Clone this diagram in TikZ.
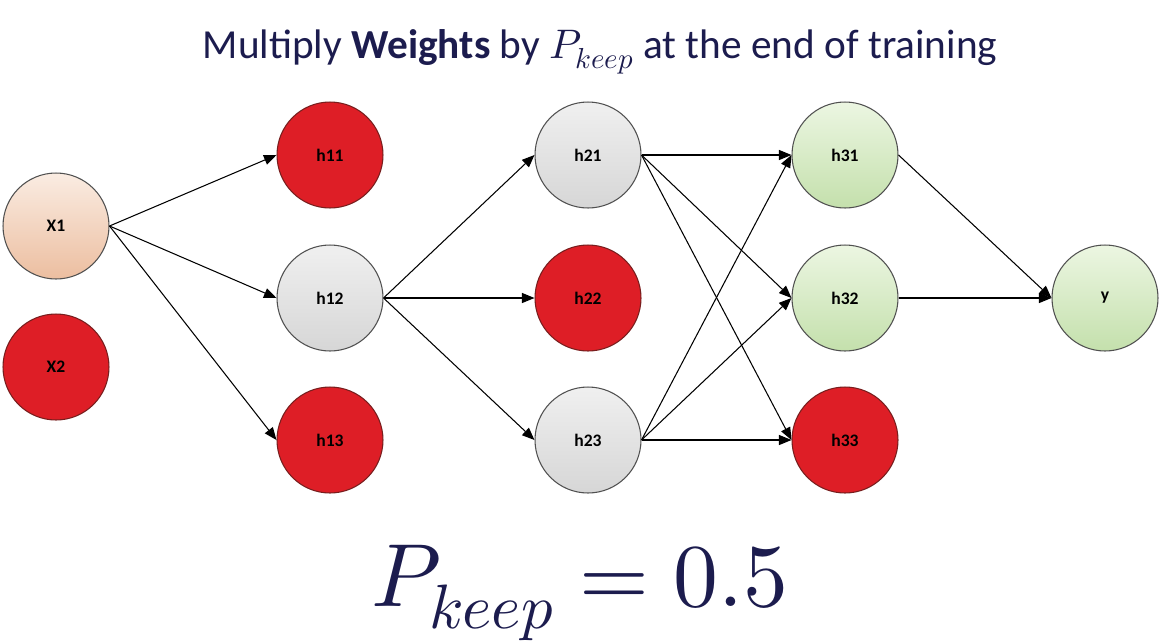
\documentclass[tikz,border=0pt]{standalone}
\usepackage{fontspec}
\usepackage{unicode-math}
\setmainfont{Carlito}
\setmathfont{Latin Modern Math}
\usetikzlibrary{arrows.meta,shadings}
\definecolor{navy}{RGB}{28,28,78}
\definecolor{redfill}{RGB}{222,30,38}
\definecolor{redline}{RGB}{120,30,30}
\definecolor{edgegrey}{RGB}{80,80,80}
\tikzset{
  neuron/.style={circle,draw=edgegrey,line width=0.6pt,minimum size=2.12cm,inner sep=0pt,font=\fontsize{10}{12}\selectfont\bfseries},
  dropped/.style={neuron,fill=redfill,draw=redline},
  hidden/.style={neuron,top color=white!94!black,bottom color=white!84!black},
  outn/.style={neuron,top color={rgb,255:red,236;green,246;blue,226},bottom color={rgb,255:red,196;green,224;blue,172}},
  inn/.style={neuron,top color={rgb,255:red,250;green,236;blue,226},bottom color={rgb,255:red,236;green,190;blue,160}},
  conn/.style={-{Triangle[length=0.25cm,width=0.2cm]},line width=0.6pt,black},
}
\begin{document}
\begin{tikzpicture}[x=0.02cm,y=-0.02cm]
\useasboundingbox (0,0) rectangle (1163,640);
\node[text=navy,font=\fontsize{23.5}{27}\selectfont] (title) at (600,52) {Multiply \textbf{Weights} by $P_{keep}$ at the end of training};
\node[inn] (x1) at (56,226) {X1};
\node[dropped] (x2) at (56,367) {X2};
\node[dropped] (h11) at (330,155) {h11};
\node[hidden] (h12) at (330,298) {h12};
\node[dropped] (h13) at (330,440) {h13};
\node[hidden] (h21) at (588,155) {h21};
\node[dropped] (h22) at (588,298) {h22};
\node[hidden] (h23) at (588,440) {h23};
\node[outn] (h31) at (845,155) {h31};
\node[outn] (h32) at (845,298) {h32};
\node[dropped] (h33) at (845,440) {h33};
\node[outn] (y) at (1105,298) {y};
\foreach \s/\t in {x1/h11,x1/h12,x1/h13,h12/h21,h12/h22,h12/h23,h21/h31,h21/h32,h21/h33,h23/h31,h23/h32,h23/h33,h31/y,h32/y}
  \draw[conn] (\s.east) -- (\t.west);
\node[text=navy,font=\fontsize{51}{55}\selectfont] (pk) at (580,593) {$P_{keep}=0.5$};
\end{tikzpicture}
\end{document}
